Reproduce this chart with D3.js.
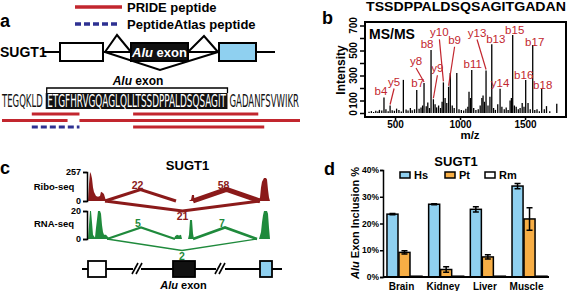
<!DOCTYPE html>
<html>
<head>
<meta charset="utf-8">
<script src="https://cdn.jsdelivr.net/npm/d3@7"></script>
<style>
  body { margin: 0; background: #fff; }
  svg { display: block; font-family: "Liberation Sans", Arial, Helvetica, sans-serif; }
</style>
</head>
<body>
<script>
// ---------------- data ----------------
// panel a: protein sequence around the Alu exon, and the peptides found
const seqLeft = "TEGQKLD";
const seqAlu = "ETGFHRVGQAGLQLLTSSDPPALDSQSAGIT";
const seqRight = "GADANFSVWIKR";
const pepStart = [5, 22, 0, 13, 22, 5];
const pepEnd = [13, 43, 11, 50, 44, 13];
const pepSource = ["PRIDE", "PRIDE", "PRIDE", "PRIDE", "PRIDE", "PeptideAtlas"];
const pepTrack = [0, 0, 1, 1, 2, 2];

// panel b: MS/MS spectrum of TSSDPPALDSQSAGITGADAN
const msTitle = "TSSDPPALDSQSAGITGADAN";
const mz = [300,318,335,352,368,380,398,415,430,447,462,478,495,512,530,548,564,585,600,618,632,650,667,685,700,712,723,740,752,765,777,795,808,820,835,850,862,872,885,898,912,925,940,955,975,992,1010,1028,1045,1060,1069,1080,1090,1105,1122,1140,1155,1168,1177,1188,1200,1215,1230,1244,1258,1272,1290,1308,1322,1340,1355,1370,1385,1395,1405,1418,1432,1448,1462,1478,1492,1505,1523,1540,1559,1575,1592,1610,1628,1648,1665,1690,1744];
const intensity = [10,15,8,18,12,25,20,125,30,15,60,22,18,35,25,12,265,28,20,40,22,30,185,35,45,60,240,55,85,40,505,110,70,45,60,40,90,245,120,80,210,320,60,40,320,30,25,20,35,50,170,120,345,40,25,30,60,120,140,90,340,60,130,550,40,25,70,195,50,30,45,25,100,120,625,60,50,30,40,80,50,265,80,30,545,25,30,15,195,30,55,15,75];
const ionNames = ["b4","y5","b7","y8","b8","y9","y10","b9","b11","y13","b13","y14","b15","b16","b17","b18"];
const ionMz = [415,462,667,723,777,795,872,912,1090,1200,1244,1308,1405,1505,1559,1628];
const yTicksMs = [0,100,200,300,400,500,600,700];
const yLabelsMs = [0,100,300,500,700];
const xTicksMs = [500,1000,1500];

// panel c: sashimi plot (position in bins along the locus)
const riboCov = [[0,0],[1,150],[2,257],[3,240],[4,200],[5,120],[6,80],[8,45],[10,38],[12,45],[13,82],[15,70],[16,60],[17,30],[18,0]];
const riboCovMid = [[101,0],[102,8],[103,12],[104,53],[106,53],[106.5,0]];
const riboCovRight = [[170,0],[172,30],[173,120],[174,170],[176,204],[178,204],[179,190],[180,100],[181,30],[182,0]];
const rnaCov = [[0,0],[1,10],[2,20],[3,20],[4,12],[5,3],[6,2],[7,1],[8,8],[9,14],[10,20],[12,20],[13,18],[14,10],[15,5],[16,3],[18,3],[20,1.5],[22,0]];
const rnaCovMid1 = [[86,0],[87,2],[89,3],[91,2.5],[93,3],[94,0]];
const rnaCovMid2 = [[100,0],[101,3],[102,13.6],[104,13.6],[105,4],[106,0]];
const rnaCovRight = [[171,0],[173,5],[174,12],[175,17],[176,20],[179,20],[180,18],[181,8],[182,0]];
const riboJunctions = [[17,88,22],[105,172,58],[17,172,21]];
const rnaJunctions = [[19,87,5],[105,169,7],[19,169,2]];
const riboMax = 257, rnaMax = 20;

// panel d: Alu exon inclusion
const tissues = ["Brain","Kidney","Liver","Muscle"];
const species = ["Hs","Pt","Rm"];
const inclHs = [23.5, 27.2, 25.3, 34.0];
const inclPt = [9.2, 2.8, 7.5, 21.7];
const inclRm = [0.3, 0.3, 0.3, 0.3];
const errHs = [0.2, 0.2, 1.0, 1.0];
const errPt = [0.6, 1.0, 0.8, 4.2];
const errRm = [0, 0, 0, 0];
const yTicksD = [0, 10, 20, 30, 40];

// ---------------- setup ----------------
const red = "#c2262e", blue = "#2e3192", skyBlue = "#8fd0f0", orange = "#f7ae45";
const riboCol = "#8b1a1a", rnaCol = "#1f8a3c";

const svg = d3.select("body").append("svg").attr("width", 568).attr("height", 291);

const letter = (t, x, y) => svg.append("text").attr("x", x).attr("y", y)
  .attr("font-size", 18).attr("font-weight", "bold").text(t);
letter("a", 0, 27); letter("b", 322, 24); letter("c", 0, 174); letter("d", 324, 175);

// ---------------- panel a ----------------
const a = svg.append("g");
a.append("line").attr("x1", 75).attr("x2", 122).attr("y1", 7).attr("y2", 7)
  .attr("stroke", red).attr("stroke-width", 3.5);
a.append("line").attr("x1", 75).attr("x2", 118).attr("y1", 24).attr("y2", 24)
  .attr("stroke", blue).attr("stroke-width", 3.5).attr("stroke-dasharray", "6,3");
a.append("text").attr("x", 127).attr("y", 12).attr("font-size", 13).attr("font-weight", "bold").text("PRIDE peptide");
a.append("text").attr("x", 127).attr("y", 29).attr("font-size", 13).attr("font-weight", "bold").text("PeptideAtlas peptide");

// gene model
a.append("text").attr("x", 0).attr("y", 57).attr("font-size", 14).attr("font-weight", "bold").text("SUGT1");
a.append("line").attr("x1", 43).attr("x2", 275).attr("y1", 52).attr("y2", 52).attr("stroke", "#000").attr("stroke-width", 2);
const chev = d3.line();
[[[105,52],[117,35],[131,52]], [[188,52],[204,36],[218,52]], [[105,52],[160,70],[218,52]]].forEach(p =>
  a.append("path").attr("d", chev(p)).attr("fill", "none").attr("stroke", "#000").attr("stroke-width", 2));
[[60,103,"#fff"],[131,188,"#111"],[219,256,skyBlue]].forEach(([x0,x1,f]) =>
  a.append("rect").attr("x", x0).attr("y", 43).attr("width", x1 - x0).attr("height", 18)
    .attr("fill", f).attr("stroke", "#000").attr("stroke-width", 2));
const aluLbl = (g, x, y, size, fill) => {
  const t = g.append("text").attr("x", x).attr("y", y).attr("text-anchor", "middle")
    .attr("font-size", size).attr("font-weight", "bold").attr("fill", fill);
  t.append("tspan").attr("font-style", "italic").text("Alu");
  t.append("tspan").text(" exon");
};
aluLbl(a, 159.5, 57, 13, "#fff");

// sequence
const sx = d3.scaleLinear().domain([0, 50]).range([2, 300]);
const nL = seqLeft.length, nA = seqAlu.length, nR = seqRight.length;
aluLbl(a, 138, 85, 12, "#000");
a.append("path").attr("d", `M${sx(nL)+3},93V88H${sx(nL+nA)-1}V93`).attr("fill", "none").attr("stroke", "#000").attr("stroke-width", 1.3);
a.append("rect").attr("x", sx(nL) + 2).attr("y", 93).attr("width", sx(nL + nA) - sx(nL) - 3).attr("height", 16).attr("fill", "#111");
const seqFont = "'Liberation Sans Narrow', 'DejaVu Sans Condensed', 'Liberation Sans', sans-serif";
const seqText = (s, x0, x1, fill) => a.append("text").attr("x", x0).attr("y", 107)
  .attr("font-family", seqFont).attr("font-size", 17).attr("fill", fill)
  .attr("textLength", x1 - x0).attr("lengthAdjust", "spacingAndGlyphs").text(s);
seqText(seqLeft, sx(0), sx(nL) - 1, "#111");
seqText(seqAlu, sx(nL) + 3.5, sx(nL + nA) - 2.5, "#fff");
seqText(seqRight, sx(nL + nA) + 1, sx(nL + nA + nR) - 1, "#111");

const trackY = d3.scalePoint().domain([0, 1, 2]).range([114, 127]);
pepStart.forEach((s, i) => {
  a.append("line").attr("x1", sx(s)).attr("x2", sx(pepEnd[i])).attr("y1", trackY(pepTrack[i])).attr("y2", trackY(pepTrack[i]))
    .attr("stroke", pepSource[i] === "PRIDE" ? red : blue).attr("stroke-width", 3)
    .attr("stroke-dasharray", pepSource[i] === "PRIDE" ? null : "6,3");
});

// ---------------- panel b ----------------
const b = svg.append("g");
const xm = d3.scaleLinear().domain([269, 1815]).range([365, 566]);
const ym = d3.scaleLinear().domain([0, 700]).range([113, 25.5]);
b.append("text").attr("x", 466).attr("y", 11).attr("text-anchor", "middle").attr("font-size", 13)
  .attr("font-weight", "bold").attr("textLength", 200).attr("lengthAdjust", "spacingAndGlyphs").text(msTitle);
b.selectAll(".pk").data(mz).join("line").attr("class", "pk")
  .attr("x1", d => xm(d)).attr("x2", d => xm(d)).attr("y1", ym(0)).attr("y2", (d, i) => ym(intensity[i]))
  .attr("stroke", "#000").attr("stroke-width", 1.3);
b.append("rect").attr("x", 365).attr("y", 22).attr("width", 201).attr("height", 95)
  .attr("fill", "none").attr("stroke", "#000").attr("stroke-width", 2);
b.append("text").attr("x", 369).attr("y", 39).attr("font-size", 14).attr("font-weight", "bold").text("MS/MS");

// ion labels: offsets of label from peak top
const ionOffset = {b4:[-3,-2],y5:[4,-20,1],b7:[1,-3],y8:[-8,-18,1],b8:[-4,-2],y9:[4,-27,1],y10:[-4,-46,1],b9:[6,-43,1],
  b11:[1,-2],y13:[-9,-34,1],b13:[4,-1],y14:[0,-2],b15:[2,-1],b16:[-2,-1],b17:[2,1],b18:[1,0]};
ionNames.forEach((n, i) => {
  const k = mz.indexOf(ionMz[i]);
  const px = xm(ionMz[i]), py = ym(intensity[k]);
  const [dx, dy, lead] = ionOffset[n];
  if (lead) b.append("line").attr("x1", px + dx).attr("y1", py + dy + 3).attr("x2", px).attr("y2", py - 1)
    .attr("stroke", red).attr("stroke-width", 1.2);
  b.append("text").attr("x", px + dx).attr("y", py + dy).attr("text-anchor", "middle")
    .attr("font-size", 11.5).attr("fill", red).text(n);
});

const yAxB = b.append("g").attr("transform", "translate(364,0)")
  .call(d3.axisLeft(ym).tickValues(yTicksMs).tickSize(4).tickFormat(""));
yAxB.select(".domain").remove();
yAxB.selectAll("line").attr("stroke-width", 1.5);
yLabelsMs.forEach(v => b.append("text").attr("transform", `translate(${357},${ym(v)}) rotate(-90)`)
  .attr("text-anchor", "middle").attr("font-size", 10).attr("font-weight", "bold").text(v));
const xAxB = b.append("g").attr("transform", "translate(0,118)")
  .call(d3.axisBottom(xm).tickValues(xTicksMs).tickSize(2).tickPadding(1).tickFormat(d3.format("d")));
xAxB.select(".domain").remove();
xAxB.selectAll("line").attr("stroke-width", 1.5);
xAxB.selectAll("text").attr("font-size", 10).attr("font-weight", "bold").attr("font-family", "Liberation Sans, Arial, sans-serif");
b.append("text").attr("x", 470).attr("y", 139).attr("text-anchor", "middle").attr("font-size", 11.5).attr("font-weight", "bold").text("m/z");
b.append("text").attr("transform", "translate(345,70) rotate(-90)").attr("text-anchor", "middle")
  .attr("font-size", 12).attr("font-weight", "bold").text("Intensity");

// ---------------- panel c ----------------
const c = svg.append("g");
const pos = d3.scaleLinear().domain([0, 182]).range([88, 270]);
const yR = d3.scaleLinear().domain([0, riboMax]).range([201, 172]);
const yN = d3.scaleLinear().domain([0, rnaMax]).range([239, 211]);
c.append("text").attr("x", 187.5).attr("y", 170).attr("text-anchor", "middle").attr("font-size", 13).attr("font-weight", "bold").text("SUGT1");

const drawTrack = (covs, ys, col, juncs, wMax, upH, downH, label, labY) => {
  const area = d3.area().x(d => pos(d[0])).y0(ys(0)).y1(d => ys(d[1]));
  covs.forEach(cv => c.append("path").attr("d", area(cv)).attr("fill", col));
  const w = d3.scaleSqrt().domain([0, d3.max(juncs, j => j[2])]).range([0, wMax]);
  const base = ys(0);
  juncs.forEach(([s, e, n], i) => {
    const long = i === juncs.length - 1;
    const mx = (pos(s) + pos(e)) / 2, my = long ? base + downH : base - upH;
    c.append("path").attr("d", d3.line()([[pos(s), base], [mx, my], [pos(e), base]]))
      .attr("fill", "none").attr("stroke", col).attr("stroke-width", w(n)).attr("stroke-linejoin", "miter");
    c.append("text").attr("x", mx - (long ? 0 : 3)).attr("y", long ? my + 9 : my - 0.5).attr("text-anchor", "middle")
      .attr("font-size", 10.5).attr("font-weight", "bold").attr("fill", col).text(n);
  });
  const ax = c.append("g").attr("transform", "translate(87,0)")
    .call(d3.axisLeft(ys).tickValues(ys.domain()).tickSize(4).tickPadding(2));
  ax.selectAll("path,line").attr("stroke-width", 1.5);
  ax.selectAll("text").attr("font-size", 9).attr("font-weight", "bold");
  c.append("text").attr("x", 54).attr("y", labY).attr("text-anchor", "middle").attr("font-size", 9.5).attr("font-weight", "bold").text(label);
};
drawTrack([riboCov, riboCovMid, riboCovRight], yR, riboCol, riboJunctions, 5, 11.5, 10, "Ribo-seq", 190);
drawTrack([rnaCov, rnaCovMid1, rnaCovMid2, rnaCovRight], yN, rnaCol, rnaJunctions, 2.6, 11.5, 11.5, "RNA-seq", 227);

// gene model c
c.append("line").attr("x1", 82).attr("x2", 282).attr("y1", 269).attr("y2", 269).attr("stroke", "#000").attr("stroke-width", 1.8);
[[132, 142], [215, 226]].forEach(([x0, x1]) => {
  c.append("rect").attr("x", x0 + 1).attr("y", 266).attr("width", x1 - x0 - 2).attr("height", 6).attr("fill", "#fff");
  [0, 4].forEach(o => c.append("line").attr("x1", x0 + o).attr("y1", 274).attr("x2", x0 + o + 6).attr("y2", 263)
    .attr("stroke", "#000").attr("stroke-width", 1.6));
});
[[88,106,"#fff"],[173,195,"#111"],[260,272,skyBlue]].forEach(([x0,x1,f]) =>
  c.append("rect").attr("x", x0).attr("y", 261).attr("width", x1 - x0).attr("height", 16)
    .attr("fill", f).attr("stroke", "#000").attr("stroke-width", 1.8));
aluLbl(c, 183.5, 289, 11, "#000");

// ---------------- panel d ----------------
const dG = svg.append("g");
const yD = d3.scaleLinear().domain([0, 40]).range([277, 170]);
const xD = d3.scaleBand().domain(tissues).range([383, 551]).paddingInner(0.16).paddingOuter(0.095);
const xS = d3.scaleBand().domain(species).range([0, xD.bandwidth()]).paddingInner(0.08);
const fills = {Hs: skyBlue, Pt: orange, Rm: "#fff"};
const vals = {Hs: inclHs, Pt: inclPt, Rm: inclRm};
const errs = {Hs: errHs, Pt: errPt, Rm: errRm};
dG.append("text").attr("x", 456).attr("y", 166).attr("text-anchor", "middle").attr("font-size", 13).attr("font-weight", "bold").text("SUGT1");

tissues.forEach((t, i) => species.forEach(s => {
  const x0 = xD(t) + xS(s), v = vals[s][i], e = errs[s][i], cx = x0 + xS.bandwidth() / 2;
  dG.append("rect").attr("x", x0).attr("y", yD(v)).attr("width", xS.bandwidth()).attr("height", yD(0) - yD(v))
    .attr("fill", fills[s]).attr("stroke", "#000").attr("stroke-width", 1.5);
  if (e > 0) {
    const cw = 3;
    dG.append("path").attr("d", `M${cx},${yD(v - e)}V${yD(v + e)}M${cx - cw},${yD(v + e)}H${cx + cw}M${cx - cw},${yD(v - e)}H${cx + cw}`)
      .attr("stroke", "#000").attr("stroke-width", 1.5).attr("fill", "none");
  }
}));

const yAxD = dG.append("g").attr("transform", "translate(383,0)")
  .call(d3.axisLeft(yD).tickValues(yTicksD).tickSize(3).tickPadding(1).tickFormat(d => d + "%"));
yAxD.selectAll("path,line").attr("stroke-width", 1.5);
yAxD.selectAll("text").attr("font-size", 8.5).attr("font-weight", "bold");
dG.append("line").attr("x1", 383).attr("x2", 549).attr("y1", 277).attr("y2", 277).attr("stroke", "#000").attr("stroke-width", 1.8);
tissues.forEach(t => dG.append("text").attr("x", xD(t) + xD.bandwidth() / 2 - 3).attr("y", 290)
  .attr("text-anchor", "middle").attr("font-size", 10).attr("font-weight", "bold").text(t));
const yl = dG.append("text").attr("transform", "translate(359,223) rotate(-90)").attr("text-anchor", "middle")
  .attr("font-size", 11).attr("font-weight", "bold");
yl.append("tspan").attr("font-style", "italic").text("Alu");
yl.append("tspan").text(" Exon Inclusion %");

const legX = [400, 445, 485];
species.forEach((s, i) => {
  dG.append("rect").attr("x", legX[i]).attr("y", 172).attr("width", 10).attr("height", 6)
    .attr("fill", fills[s]).attr("stroke", "#000").attr("stroke-width", 1.5);
  dG.append("text").attr("x", legX[i] + 14).attr("y", 179).attr("font-size", 11).attr("font-weight", "bold").text(s);
});
</script>
</body>
</html>
